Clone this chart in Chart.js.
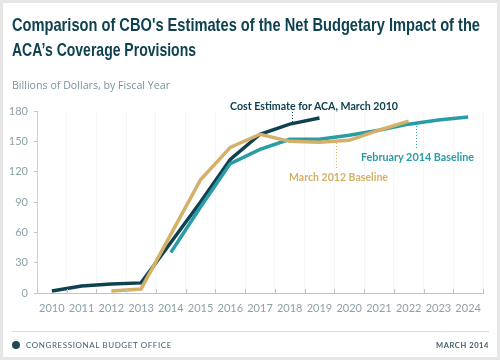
<!DOCTYPE html>
<html>
<head>
<meta charset="utf-8">
<script src="https://cdn.jsdelivr.net/npm/chart.js@4"></script>
<style>
  html,body{margin:0;padding:0;background:#fff;}
  #wrap{position:relative;width:500px;height:360px;overflow:hidden;background:#fff;}
  #frame{position:absolute;left:0;top:0;width:494px;height:354px;border:3px solid #e6e6e6;pointer-events:none;}
  canvas{position:absolute;left:0;top:0;}
  .fit{transform-origin:0 0;}
  .title{position:absolute;left:12px;font-family:"Liberation Sans",sans-serif;font-weight:bold;font-size:19px;line-height:22px;color:#0f4250;white-space:nowrap;}
  .sub{position:absolute;left:12px;top:77px;font-family:"Open Sans",sans-serif;font-size:11.5px;color:#7a949c;white-space:nowrap;}
  .ann{position:absolute;font-family:"Lato","Open Sans",sans-serif;font-weight:bold;font-size:11.5px;white-space:nowrap;}
  .foot{position:absolute;font-family:"Lato","Open Sans",sans-serif;font-size:8px;letter-spacing:0.6px;color:#3f5f68;white-space:nowrap;}
  #hr{position:absolute;left:12px;top:331px;width:477px;height:1px;background:#dcdcdc;}
  #logo{position:absolute;left:12px;top:341px;width:8px;height:8px;border-radius:50%;background:#1f4a56;}
</style>
</head>
<body>
<div id="wrap">
  <canvas id="c" width="500" height="360"></canvas>
  <div class="title fit" data-w="468" style="top:14px;">Comparison of CBO's Estimates of the Net Budgetary Impact of the</div>
  <div class="title fit" data-w="184" style="top:39px;">ACA’s Coverage Provisions</div>
  <div class="sub fit" data-w="158">Billions of Dollars, by Fiscal Year</div>
  <div class="ann fit" data-w="168" style="left:230px;top:99px;color:#0f4250;">Cost Estimate for ACA, March 2010</div>
  <div class="ann fit" data-w="113" style="left:361px;top:150px;color:#2a9ca6;">February 2014 Baseline</div>
  <div class="ann fit" data-w="99" style="left:289px;top:170px;color:#d4b068;">March 2012 Baseline</div>
  <div id="hr"></div>
  <div id="logo"></div>
  <div class="foot" style="left:26px;top:340px;">CONGRESSIONAL BUDGET OFFICE</div>
  <div class="foot" style="right:11px;top:341px;font-weight:bold;font-size:7.5px;">MARCH 2014</div>
  <div id="frame"></div>
</div>
<script>
document.querySelectorAll('.fit').forEach(el => {
  const w = el.getBoundingClientRect().width;
  const target = parseFloat(el.dataset.w);
  el.style.transform = 'scaleX(' + (target / w).toFixed(4) + ')';
});

const years = ["2010","2011","2012","2013","2014","2015","2016","2017","2018","2019","2020","2021","2022","2023","2024"];
const costEstimate2010 = [2, 7, 9, 10, 50, 90, 132, 157, 167, 173, null, null, null, null, null];
const baselineMarch2012 = [null, null, 2, 4, 58, 112, 144, 157, 150, 149, 151, 161, 170, null, null];
const baselineFeb2014 = [null, null, null, null, 40, 85, 128, 142, 152, 152, 156, 161, 167, 171, 174];
const yTicks = [0, 30, 60, 90, 120, 150, 180];

const DARK = '#0f4250', TEAL = '#2a9ca6', GOLD = '#d4b068';
const tickColor = '#8ca2a9';

// leader lines: fractional category position, pixel y span
const leaders = [
  {pos: 8.07, y0: 112, y1: 122, color: DARK},
  {pos: 12.24, y0: 126, y1: 150, color: TEAL},
  {pos: 9.56, y0: 143, y1: 169, color: GOLD}
];

const decor = {
  id: 'decor',
  afterDatasetsDraw(chart) {
    const {ctx, scales: {x, y}} = chart;
    const x0 = x.getPixelForValue(0);
    const step = x.getPixelForValue(1) - x0;
    ctx.save();
    ctx.strokeStyle = '#b9c7cb';
    ctx.lineWidth = 1;
    for (let i = 0; i <= years.length; i++) {
      const px = Math.round(x0 + i * step - step / 2) + 0.5;
      ctx.beginPath();
      ctx.moveTo(px, y.bottom - 4);
      ctx.lineTo(px, y.bottom);
      ctx.stroke();
    }
    ctx.setLineDash([1, 2]);
    leaders.forEach(l => {
      const px = Math.round(x0 + l.pos * step) + 0.5;
      ctx.strokeStyle = l.color;
      ctx.beginPath();
      ctx.moveTo(px, l.y0);
      ctx.lineTo(px, l.y1);
      ctx.stroke();
    });
    ctx.restore();
  }
};

new Chart(document.getElementById('c'), {
  type: 'line',
  data: {
    labels: years,
    datasets: [
      {label: 'Cost Estimate for ACA, March 2010', data: costEstimate2010, borderColor: DARK, order: 3},
      {label: 'February 2014 Baseline', data: baselineFeb2014, borderColor: TEAL, order: 2},
      {label: 'March 2012 Baseline', data: baselineMarch2012, borderColor: GOLD, order: 1}
    ].map(d => Object.assign(d, {borderWidth: 3.5, pointRadius: 0, tension: 0, spanGaps: false, fill: false, borderJoinStyle: 'miter'}))
  },
  options: {
    responsive: false,
    animation: false,
    events: [],
    layout: {padding: {left: 0, right: 17, top: 111, bottom: 37}},
    plugins: {legend: {display: false}, tooltip: {enabled: false}, title: {display: false}},
    scales: {
      x: {
        offset: true,
        grid: {offset: true, display: true, drawTicks: false, color: '#f4f6f6', drawOnChartArea: true},
        border: {display: true, color: '#b9c7cb', width: 1},
        ticks: {color: tickColor, font: {family: 'Lato, "Open Sans", sans-serif', size: 11}, padding: 9, maxRotation: 0, autoSkip: false},
        afterFit(s) { s.height = 30; }
      },
      y: {
        min: 0, max: 180,
        afterBuildTicks(s) { s.ticks = yTicks.map(v => ({value: v})); },
        grid: {display: true, drawOnChartArea: false, drawTicks: true, tickLength: 3, color: '#b9c7cb'},
        border: {display: true, color: '#c8d3d6', width: 1},
        ticks: {color: tickColor, font: {family: 'Lato, "Open Sans", sans-serif', size: 11}, padding: 6},
        afterFit(s) { s.width = 37; }
      }
    }
  },
  plugins: [decor]
});
</script>
</body>
</html>
